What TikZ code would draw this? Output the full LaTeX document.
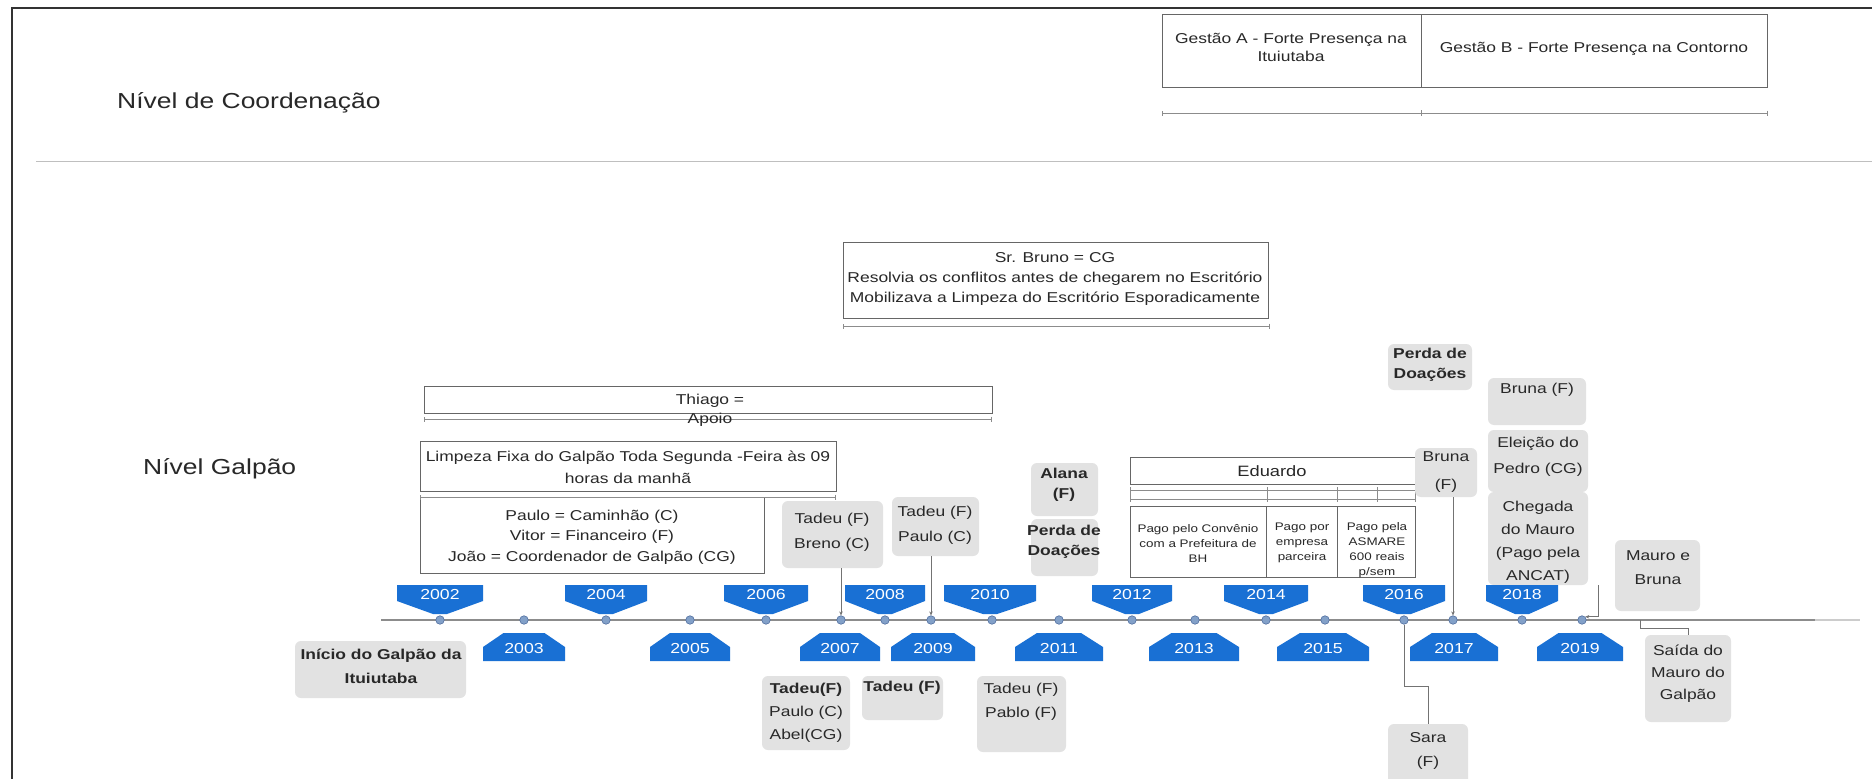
\documentclass[tikz,border=0pt]{standalone}
\usepackage{fontspec}
\setmainfont{Liberation Sans}[FakeStretch=1.22]
\usetikzlibrary{arrows.meta,fit}
\definecolor{yrblue}{RGB}{25,112,212}
\definecolor{dotfill}{RGB}{130,160,200}
\definecolor{dotdraw}{RGB}{80,110,160}
\definecolor{boxgray}{RGB}{226,226,226}
\definecolor{txt}{RGB}{40,40,40}
\definecolor{linegray}{RGB}{140,140,140}
\newcommand\fsz[2]{\fontsize{#1}{#2}\selectfont}
\begin{document}
\begin{tikzpicture}[x=1pt,y=-1pt,
  wbox/.style={draw=black!60, line width=0.9pt, fill=white, inner sep=0pt},
  gbox/.style={fill=boxgray, rounded corners=6pt, inner sep=0pt},
  t/.style={text=txt, align=center, inner sep=0pt, font=\fsz{14.3}{22}},
  tbold/.style={text=txt, align=center, inner sep=0pt, font=\bfseries\fsz{14.3}{20}},
  small/.style={text=txt, align=center, inner sep=0pt, font=\fsz{11}{15}},
  span/.style={draw=linegray, line width=0.9pt},
  conn/.style={draw=black!55, line width=0.9pt, -{Stealth[length=4pt,width=3.5pt]}},
  plain/.style={draw=black!55, line width=0.9pt},
  dot/.style={circle, fill=dotfill, draw=dotdraw, line width=0.6pt, inner sep=0pt, minimum size=8.5pt},
  yeartxt/.style={text=white, inner sep=0pt, font=\fsz{14.5}{16}},
]
\useasboundingbox (0,0) rectangle (1872,779);
\clip (0,0) rectangle (1872,779);
\fill[white] (0,0) rectangle (1872,779);
% frame
\draw[black!80, line width=1.2pt] (12,779) -- (12,8) -- (1872,8);
% separator
\draw[black!25, line width=0.8pt] (36,161) -- (1872,161);

% headings
\node[t, anchor=west, font=\fsz{21.7}{26}] (nc) at (117,103) {Nível de Coordenação};
\node[t, anchor=west, font=\fsz{21.7}{26}] (ng) at (143,469) {Nível Galpão};

% Gestao boxes
\node[wbox, fit={(1162,14) (1421,87)}] (ga) {};
\node[wbox, fit={(1421,14) (1767,87)}] (gb) {};
\node[t, font=\fsz{14.3}{18}] (gat) at (1291,47) {Gestão A - Forte Presença na\\Ituiutaba};
\node[t] (gbt) at (1594,49) {Gestão B - Forte Presença na Contorno};
\draw[span, {Bar[width=5pt]}-{Bar[width=5pt]}] (ga.south west |- 0,113) -- (gb.south east |- 0,113);
\draw[span] (1421,110) -- (1421,116);

% Sr Bruno
\node[wbox, fit={(843,242) (1268,318)}] (sb) {};
\node[t, font=\fsz{14.3}{20}] (sbt) at (1055,279) {Sr. Bruno = CG\\Resolvia os conflitos antes de chegarem no Escritório\\Mobilizava a Limpeza do Escritório Esporadicamente};
\draw[span, {Bar[width=5pt]}-{Bar[width=5pt]}] (843,326) -- (1270,326);

% Thiago
\node[wbox, fit={(424,386) (992,413)}] (th) {};
\draw[span, {Bar[width=5pt]}-{Bar[width=5pt]}] (424,419) -- (992,419);
\node[t, font=\fsz{14.3}{19}] (tht) at (710,410) {Thiago =\\Apoio};

% Limpeza
\node[wbox, fit={(420,441) (836,491)}] (lp) {};
\node[t, font=\fsz{14.3}{22}] (lpt) at (628,467) {Limpeza Fixa do Galpão Toda Segunda -Feira às 09\\horas da manhã};

% Paulo box
\node[wbox, fit={(420,497) (764,573)}] (pb) {};
\draw[span, {Bar[width=5pt]}-{Bar[width=5pt]}] (420,497) -- (836,497);
\node[t, font=\fsz{14.3}{20.5}] (pbt) at (592,537) {Paulo = Caminhão (C)\\Vitor = Financeiro (F)\\João = Coordenador de Galpão (CG)};

% Eduardo
\node[wbox, fit={(1130,457) (1415,484)}] (ed) {};
\node[t, font=\fsz{15}{18}] (edt) at (1272,471) {Eduardo};
\draw[span] (1130,490) -- (1415,490);
\draw[span] (1130,499) -- (1415,499);
\foreach \tx in {1130,1267,1337,1377,1415} {\draw[span] (\tx,487) -- (\tx,502);}
\node[wbox, fit={(1130,506) (1266,577)}] (e1) {};
\node[wbox, fit={(1266,506) (1337,577)}] (e2) {};
\node[wbox, fit={(1337,506) (1415,577)}] (e3) {};
\node[small] (e1t) at (1198,543) {Pago pelo Convênio\\com a Prefeitura de\\BH};
\node[small] (e2t) at (1302,543) {Pago por\\empresa\\parceira};
\node[small] (e3t) at (1377,550) {Pago pela\\ASMARE\\600 reais\\p/sem};

% gray boxes above the line
\node[gbox, fit={(782,501) (883,568)}] (tb) {};
\node[t, font=\fsz{14.3}{25}] (tbt) at (832,532) {Tadeu (F)\\Breno (C)};
\node[gbox, fit={(892,497) (979,556)}] (tp) {};
\node[t, font=\fsz{14.3}{25}] (tpt) at (935,525) {Tadeu (F)\\Paulo (C)};
\node[gbox, fit={(1031,463) (1098,516)}] (al) {};
\node[tbold] (alt) at (1064,485) {Alana\\(F)};
\node[gbox, fit={(1031,519) (1098,576)}] (pd1) {};
\node[tbold] (pd1t) at (1064,542) {Perda de\\Doações};
\node[gbox, fit={(1415,448) (1477,497)}] (bm) {};
\node[t, font=\fsz{14.3}{28}] (bmt) at (1446,472) {Bruna\\(F)};
\node[gbox, fit={(1388,344) (1472,390)}] (pd2) {};
\node[tbold] (pd2t) at (1430,365) {Perda de\\Doações};
\node[gbox, fit={(1488,378) (1586,425)}] (br) {};
\node[t] (brt) at (1537,390) {Bruna (F)};
\node[gbox, fit={(1488,430) (1588,492)}] (el) {};
\node[t, font=\fsz{14.3}{26}] (elt) at (1538,457) {Eleição do\\Pedro (CG)};
\node[gbox, fit={(1488,492) (1588,585)}] (ch) {};
\node[t, font=\fsz{14.3}{23}] (cht) at (1538,542) {Chegada\\do Mauro\\(Pago pela\\ANCAT)};
\node[gbox, fit={(1615,540) (1700,611)}] (mb) {};
\node[t, font=\fsz{14.3}{24}] (mbt) at (1658,568) {Mauro e\\Bruna};

% gray boxes below the line
\node[gbox, fit={(295,641) (466,698)}] (ini) {};
\node[tbold, font=\bfseries\fsz{14.3}{24}] (init) at (381,666) {Início do Galpão da\\Ituiutaba};
\node[gbox, fit={(762,676) (850,750)}] (tpa) {};
\node[t, font=\fsz{14.3}{23}] (tpat) at (806,713) {\textbf{Tadeu(F)}\\Paulo (C)\\Abel(CG)};
\node[gbox, fit={(862,676) (943,720)}] (tf) {};
\node[tbold] (tft) at (902,688) {Tadeu (F)};
\node[gbox, fit={(977,676) (1066,752)}] (tpb) {};
\node[t, font=\fsz{14.3}{24}] (tpbt) at (1021,702) {Tadeu (F)\\Pablo (F)};
\node[gbox, fit={(1645,635) (1731,722)}] (sa) {};
\node[t, font=\fsz{14.3}{22}] (sat) at (1688,674) {Saída do\\Mauro do\\Galpão};
\node[gbox, fit={(1388,724) (1468,800)}] (sr) {};
\node[t, font=\fsz{14.3}{24}] (srt) at (1428,751) {Sara\\(F)};

% timeline
\draw[linegray, line width=1.5pt] (381,620) -- (1815,620);
\draw[black!20, line width=1.5pt] (1815,620) -- (1860,620);

% years above (even)
\foreach \yr/\xx/\hw in {2002/440/43, 2004/606/41, 2006/766/42, 2008/885/40, 2010/990/46, 2012/1132/40, 2014/1266/42, 2016/1404/41, 2018/1522/36} {
  \fill[yrblue] (\xx-\hw,585) -- (\xx+\hw,585) -- (\xx+\hw,601) -- (\xx+7,614) -- (\xx-7,614) -- (\xx-\hw,601) -- cycle;
  \node[yeartxt] (y\yr) at (\xx,595) {\yr};
}
% years below (odd)
\foreach \yr/\xx/\hw in {2003/524/41, 2005/690/40, 2007/840/40, 2009/933/42, 2011/1059/44, 2013/1194/45, 2015/1323/46, 2017/1454/44, 2019/1580/43} {
  \fill[yrblue] (\xx-\hw,661) -- (\xx-\hw,647) -- (\xx-\hw/2,633) -- (\xx+\hw/2,633) -- (\xx+\hw,647) -- (\xx+\hw,661) -- cycle;
  \node[yeartxt] (y\yr) at (\xx,649) {\yr};
}
% dots
\foreach \yr/\xx in {2002/440, 2003/524, 2004/606, 2005/690, 2006/766, 2007/841, 2008/885, 2009/931, 2010/992, 2011/1059, 2012/1132, 2013/1195, 2014/1266, 2015/1325, 2016/1404, 2017/1453, 2018/1522, 2019/1582} {
  \node[dot] (d\yr) at (\xx,620) {};
}

% connectors
\draw[conn] (tb.south -| d2007) -- (d2007.north);
\draw[conn] (tp.south -| d2009) -- (d2009.north);
\draw[conn] (bm.south -| d2017) -- (d2017.north);
\coordinate (cm) at (1598,585);
\draw[conn] (cm) |- (d2019.north east);
\coordinate (ms) at (1640,620);
\draw[plain] (ms) -- ++(0,8) -| (sa.north);
\draw[plain] (d2016.south) -- ++(0,62) -| (sr.north);
\end{tikzpicture}
\end{document}
